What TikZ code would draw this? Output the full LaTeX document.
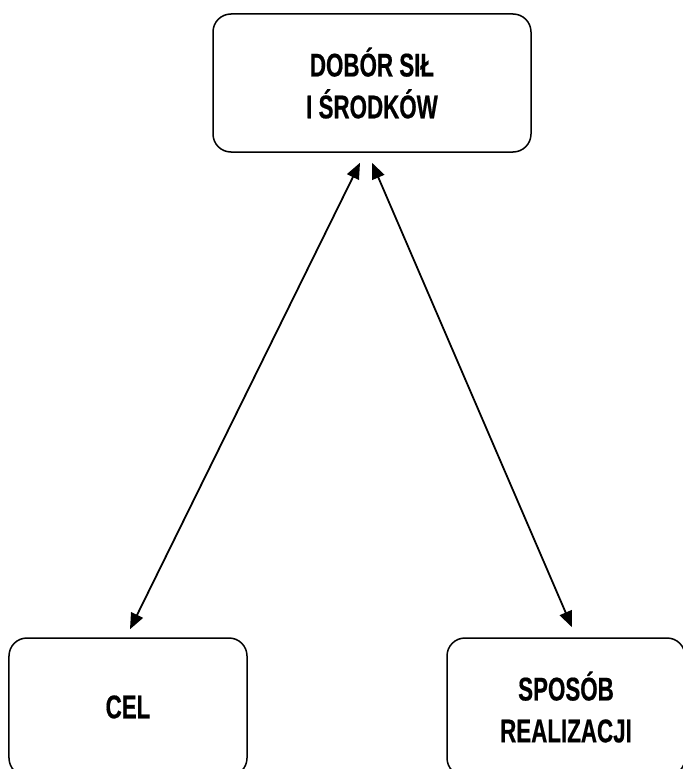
\documentclass[tikz,border=0pt]{standalone}
\usepackage{fontspec}
\newfontfamily\boxfont{Liberation Sans Bold}[FakeStretch=0.68, FakeBold=0.5]
\usetikzlibrary{positioning, arrows.meta}
\tikzstyle{block} = [
    rectangle, draw, line width=1.5bp,
    rounded corners=18bp,
    minimum height=138bp, % same height for all three
    align=center, inner sep=0pt,
    font=\boxfont\fontsize{33}{42}\selectfont
]
\tikzstyle{link} = [
    {Triangle[length=16bp,width=13bp]}-{Triangle[length=16bp,width=13bp]},
    line width=1.8bp
]

\begin{document}
\begin{tikzpicture}[x=1bp, y=-1bp]
        \clip (0,0) rectangle (683,769);
        % Blocks
        \node[block, minimum width=318bp] (dobor) at (372,83) {DOBÓR SIŁ\\I ŚRODKÓW};
        \node[block, minimum width=238bp] (cel) at (128,707) {CEL};
        \node[block, minimum width=238bp] (sposob) at (566,707) {SPOSÓB\\REALIZACJI};

        % Links
        \draw[link] ([xshift=-12bp, yshift=-10bp]dobor.south) -- ([xshift=2bp, yshift=8bp]cel.north);
        \draw[link] ([yshift=-10bp]dobor.south) -- ([xshift=6bp, yshift=10bp]sposob.north);
    \end{tikzpicture}
\end{document}
